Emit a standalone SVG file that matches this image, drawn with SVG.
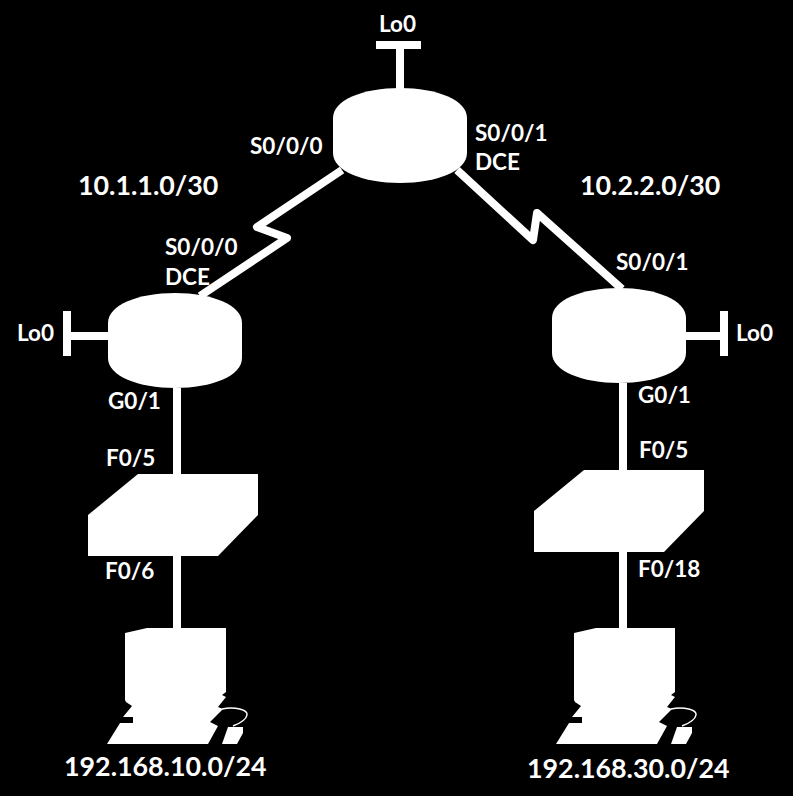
<svg xmlns="http://www.w3.org/2000/svg" width="793" height="796" viewBox="0 0 793 796">
<style>
.w{fill:#fff}
.c{fill:none;stroke:#fff;stroke-width:8;stroke-linejoin:round}
text{fill:#fff;font-family:Lato,"Open Sans",sans-serif;font-weight:700;font-size:22.5px}
.n{font-size:26.8px}
</style>
<defs>
<path id="router" d="M0,30C0,12 30,0 67,0S134,12 134,30V65C134,83 104,95 67,95S0,83 0,65Z"/>
<path id="switch" d="M50,0H170V41L130,82H0V41Z"/>
<g id="pc">
<path d="M35,13L57,8H136V72L132,75L136,77L128,87L133,89L120,102L128,106L118,124H17L30,103H43V97H33L42,86L36,82L35,80Z"/>
<path d="M132,124L138,107H153V113L147,124Z"/>
<path d="M132,89C145,86 158,90 157,95C156,101 148,104 143,106" fill="none" stroke="#fff" stroke-width="1.5"/>
</g>
</defs>
<rect width="793" height="796" fill="#000"/>
<g id="connectors">
<path class="c" d="M400,45V90M376,45H421"/>
<path class="c" d="M67,311V356M67,336H110"/>
<path class="c" d="M724,311V356M684,336H724"/>
<path class="c" d="M342,170L257,227L287,238L200,296"/>
<path class="c" d="M457,170L533,240L537,213L622,289"/>
<path class="c" d="M177,388V476M177,555V629"/>
<path class="c" d="M623,383V472M623,551V629"/>
</g>
<g id="router-top" class="w"><use href="#router" x="333" y="88"/></g>
<g id="router-left" class="w"><use href="#router" x="108" y="293"/></g>
<g id="router-right" class="w"><use href="#router" x="552" y="288"/></g>
<g id="switch-left" class="w"><use href="#switch" x="88" y="474"/></g>
<g id="switch-right" class="w"><use href="#switch" x="534" y="470"/></g>
<g id="pc-left" class="w"><use href="#pc" x="90" y="620"/></g>
<g id="pc-right" class="w"><use href="#pc" x="539" y="620"/></g>
<g id="labels">
<text x="379" y="32">Lo0</text>
<text x="250" y="154">S0/0/0</text>
<text x="475" y="141">S0/0/1</text>
<text x="475" y="170">DCE</text>
<text class="n" x="78" y="195">10.1.1.0/30</text>
<text class="n" x="580" y="195">10.2.2.0/30</text>
<text x="165" y="255">S0/0/0</text>
<text x="165" y="285">DCE</text>
<text x="616" y="270">S0/0/1</text>
<text x="17" y="341">Lo0</text>
<text x="736" y="341">Lo0</text>
<text x="108" y="409">G0/1</text>
<text x="638" y="403">G0/1</text>
<text x="106" y="466">F0/5</text>
<text x="639" y="458">F0/5</text>
<text x="105" y="579">F0/6</text>
<text x="638" y="577">F0/18</text>
<text class="n" x="64" y="776">192.168.10.0/24</text>
<text class="n" x="527" y="778">192.168.30.0/24</text>
</g>
</svg>
